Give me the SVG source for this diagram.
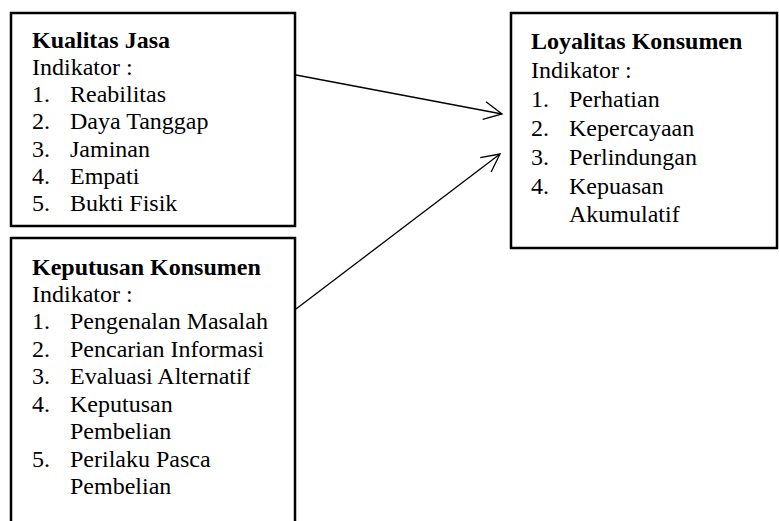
<svg xmlns="http://www.w3.org/2000/svg" width="779" height="521" viewBox="0 0 779 521">
<style>
.box{fill:#fff;stroke:#000;stroke-width:2.5}
text{font-family:'Liberation Serif','Times New Roman',Tinos,'DejaVu Serif',serif;font-size:24px;fill:#000}
.b{font-weight:bold}
.conn{fill:none;stroke:#000;stroke-width:1.3}
</style>
<defs>
<marker id="arr" markerUnits="userSpaceOnUse" markerWidth="24" markerHeight="24" viewBox="-20 -12 24 24" refX="0" refY="0" orient="auto">
<path d="M-18,-9 L0,0 L-18,9" fill="none" stroke="#000" stroke-width="1.3"/>
</marker>
</defs>
<rect width="779" height="521" fill="#fff"/>
<g id="kualitas-jasa">
<rect class="box" x="11" y="13" width="284" height="213"/>
<text class="b" x="32" y="48">Kualitas Jasa</text>
<text x="32" y="75">Indikator :</text>
<text x="32" y="102">1.</text><text x="70" y="102">Reabilitas</text>
<text x="32" y="129">2.</text><text x="70" y="129">Daya Tanggap</text>
<text x="32" y="157">3.</text><text x="70" y="157">Jaminan</text>
<text x="32" y="184">4.</text><text x="70" y="184">Empati</text>
<text x="32" y="211">5.</text><text x="70" y="211">Bukti Fisik</text>
</g>
<g id="keputusan-konsumen">
<rect class="box" x="11" y="238" width="284" height="300"/>
<text class="b" x="32" y="275">Keputusan Konsumen</text>
<text x="32" y="302">Indikator :</text>
<text x="32" y="329">1.</text><text x="70" y="329">Pengenalan Masalah</text>
<text x="32" y="357">2.</text><text x="70" y="357">Pencarian Informasi</text>
<text x="32" y="384">3.</text><text x="70" y="384">Evaluasi Alternatif</text>
<text x="32" y="412">4.</text><text x="70" y="412">Keputusan</text>
<text x="70" y="439">Pembelian</text>
<text x="32" y="467">5.</text><text x="70" y="467">Perilaku Pasca</text>
<text x="70" y="494">Pembelian</text>
</g>
<g id="loyalitas-konsumen">
<rect class="box" x="511" y="13" width="266" height="235"/>
<text class="b" x="531" y="49">Loyalitas Konsumen</text>
<text x="531" y="78">Indikator :</text>
<text x="531" y="107">1.</text><text x="569" y="107">Perhatian</text>
<text x="531" y="136">2.</text><text x="569" y="136">Kepercayaan</text>
<text x="531" y="165">3.</text><text x="569" y="165">Perlindungan</text>
<text x="531" y="194">4.</text><text x="569" y="194">Kepuasan</text>
<text x="569" y="222">Akumulatif</text>
</g>
<g id="connectors">
<line class="conn" x1="296" y1="75" x2="502" y2="114" marker-end="url(#arr)"/>
<line class="conn" x1="296" y1="309" x2="500" y2="154" marker-end="url(#arr)"/>
</g>
</svg>
